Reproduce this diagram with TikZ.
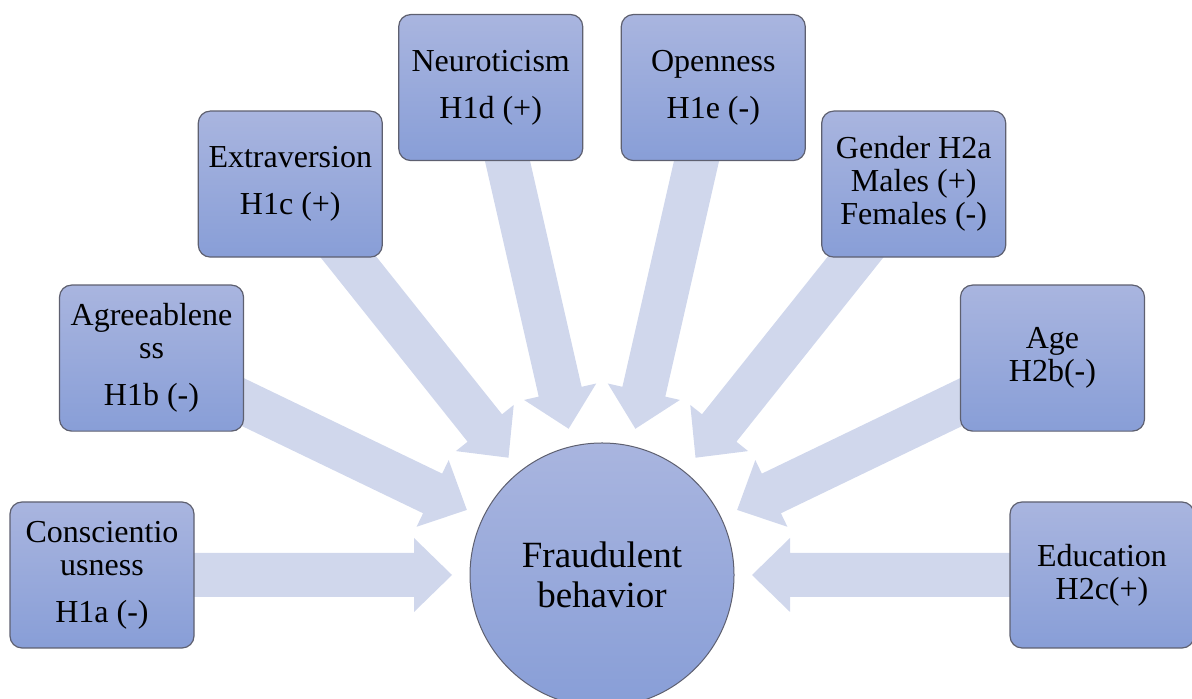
\documentclass[tikz,border=0pt]{standalone}
\usepackage{fontspec}
\setmainfont{Liberation Serif}
\usetikzlibrary{calc,backgrounds}

\definecolor{boxtop}{HTML}{A9B5DF}
\definecolor{boxbot}{HTML}{889ED7}
\definecolor{boxline}{HTML}{5E6070}
\definecolor{arrowfill}{HTML}{D0D7EC}

\tikzset{
  factor/.style={rectangle, rounded corners=6pt, draw=boxline, line width=0.6pt,
    top color=boxtop, bottom color=boxbot,
    minimum width=92pt, minimum height=73pt, inner sep=2pt,
    align=center, font=\fontsize{16}{16.5}\selectfont},
  hubnode/.style={circle, draw=boxline, line width=0.5pt,
    top color=boxtop, bottom color=boxbot,
    minimum size=132pt, inner sep=0pt,
    align=center, font=\fontsize{18.5}{20}\selectfont},
  blockarrow/.style={fill=arrowfill, draw=none}
}

% Wide block arrow from the centre of a box towards the hub
\newcommand\flowarrow[2]{%
  \path ($(#2)!75pt!(#1)$) coordinate (tip)
        ($(#2)!94pt!(#1)$) coordinate (hb);
  \fill[blockarrow]
    ($(#1)!11pt!90:(#2)$) --
    ($(hb)!11pt!-90:(#1)$) --
    ($(hb)!18.5pt!-90:(#1)$) --
    (tip) --
    ($(hb)!18.5pt!90:(#1)$) --
    ($(hb)!11pt!90:(#1)$) --
    ($(#1)!11pt!-90:(#2)$) -- cycle;
}

\begin{document}
\begin{tikzpicture}[x=0.5pt, y=0.5pt]
  \useasboundingbox (0,0) rectangle (1192,699);
  \clip (0,0) rectangle (1192,699);

  \node[hubnode] (hub) at (602,124) {Fraudulent\\behavior};

  \node[factor] (consc) at ($(hub)+(180:250pt)$) {Conscientio\\usness\\[7pt]H1a (-)};
  \node[factor] (agree) at ($(hub)+(154.29:250pt)$) {Agreeablene\\ss\\[7pt]H1b (-)};
  \node[factor] (extra) at ($(hub)+(128.57:250pt)$) {Extraversion\\[7pt]H1c (+)};
  \node[factor] (neuro) at ($(hub)+(102.86:250pt)$) {Neuroticism\\[7pt]H1d (+)};
  \node[factor] (open)  at ($(hub)+(77.14:250pt)$) {Openness\\[7pt]H1e (-)};
  \node[factor] (gender) at ($(hub)+(51.43:250pt)$) {Gender H2a\\Males (+)\\Females (-)};
  \node[factor] (age)   at ($(hub)+(25.71:250pt)$) {Age\\H2b(-)};
  \node[factor] (edu)   at ($(hub)+(0:250pt)$) {Education\\H2c(+)};

  \begin{pgfonlayer}{background}
    \foreach \b in {consc,agree,extra,neuro,open,gender,age,edu}
      {\flowarrow{\b}{hub}}
  \end{pgfonlayer}
\end{tikzpicture}
\end{document}
